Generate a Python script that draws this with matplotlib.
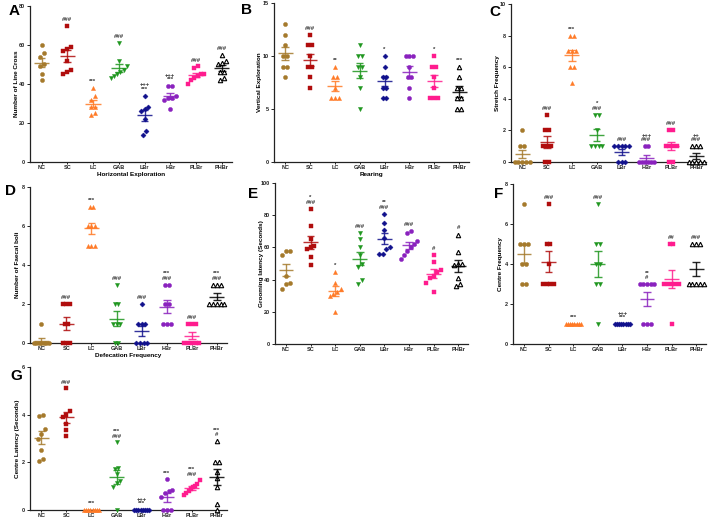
import numpy as np
import matplotlib
matplotlib.use('Agg')
import matplotlib.pyplot as plt

plt.rcParams['font.family'] = ['Liberation Sans', 'DejaVu Sans']
plt.rcParams['font.weight'] = 'bold'

W, H = 708, 518

groups = ['NC', 'SC', 'LC', 'GAB', 'LBr', 'HBr', 'PLBr', 'PHBr']
colors = ['#A57A2C', '#B00D0D', '#FF7A26', '#1E961E', '#10108C', '#8A22BE', '#FF1C8E', '#000000']
markers = ['o', 's', '^', 'v', 'D', 'o', 's', '^']

# Panel A - Number of Line Cross
a_vals = [[60, 56, 54, 50, 49, 45, 42],
          [70, 59, 58, 57, 52, 47, 46, 45],
          [38, 34, 32, 28, 28, 25, 24],
          [61, 52, 49, 47, 46, 45, 44, 43],
          [34, 28, 27, 26, 22, 16, 14],
          [39, 39, 34, 33, 33, 32, 27],
          [49, 48, 45, 45, 44, 43, 42, 40],
          [55, 52, 51, 50, 46, 46, 43, 42]]
a_ann = ['', '###', '***', '###', '+++\n***', '+++\n***', '###', '###']

# Panel B - Vertical Exploration
b_vals = [[13, 12, 11, 10, 10, 9, 9, 8],
          [12, 11, 11, 10, 9, 9, 8, 7],
          [9, 8, 8, 7, 6, 6, 6],
          [11, 10, 10, 9, 9, 8, 7, 5],
          [10, 9, 8, 8, 7, 7, 6, 6],
          [10, 10, 10, 9, 8, 8, 7, 6],
          [10, 9, 9, 8, 7, 6, 6, 6],
          [9, 8, 7, 7, 6, 6, 5, 5]]
b_ann = ['', '###', '**', '', '*', '', '*', '***']

# Panel C - Stretch Frequency
c_vals = [[2, 1, 1, 0, 0, 0, 0, 0],
          [3, 2, 2, 1, 1, 1, 0, 0],
          [8, 8, 7, 7, 7, 6, 6, 5],
          [3, 3, 2, 1, 1, 1, 1],
          [1, 1, 1, 1, 1, 0, 0, 0],
          [1, 1, 0, 0, 0, 0, 0, 0],
          [2, 2, 1, 1, 1, 1, 0, 0],
          [1, 1, 1, 0, 0, 0, 0, 0]]
c_ann = ['', '###', '***', '*\n###', '###', '+++\n###', '###', '++\n###']

# Panel D - Number of Faecal boli
d_vals = [[1, 0, 0, 0, 0, 0, 0, 0],
          [2, 2, 2, 1, 1, 0, 0, 0],
          [7, 7, 6, 6, 6, 5, 5, 5],
          [3, 2, 2, 1, 1, 1, 0, 0],
          [2, 1, 1, 1, 0, 0, 0, 0],
          [3, 3, 2, 2, 1, 1, 1],
          [1, 1, 1, 0, 0, 0, 0, 0],
          [3, 3, 3, 2, 2, 2, 2, 2]]
d_ann = ['', '###', '***', '###', '###', '***\n###', '###', '***\n###']

# Panel E - Grooming latency (Seconds)
e_vals = [[58, 57.5, 55, 42, 38, 37, 34],
          [84, 73, 65, 61, 60, 59, 54, 49],
          [45, 38, 34, 32, 31, 30, 20],
          [69, 65, 60, 55, 50, 48, 40, 37],
          [81, 75, 71, 66, 60, 59, 56, 56],
          [70, 69, 64, 62, 60, 58, 55, 53],
          [55, 51, 46, 45, 42, 41, 38, 32],
          [68, 57, 50, 50, 49, 41, 37, 36]]
e_ann = ['', '*\n###', '*', '###', '**\n###', '###', '#', '#']

# Panel F - Centre Frequency
f_vals = [[7, 5, 5, 5, 4, 4, 3, 3],
          [7, 5, 5, 4, 3, 3, 3, 3],
          [1, 1, 1, 1, 1, 1, 1, 1],
          [7, 5, 5, 4, 4, 3, 3, 1],
          [1, 1, 1, 1, 1, 1, 1, 1],
          [3, 3, 3, 3, 3, 1, 1, 1],
          [5, 5, 3, 3, 3, 3, 3, 1],
          [5, 5, 5, 3, 3, 3, 3, 3]]
f_ann = ['', '###', '***', '###', '+++\n***', '**\n#', '##', '###']

# Panel G - Centre Latency (Seconds)
g_vals = [[4.0, 3.95, 3.4, 3.2, 3.0, 2.5, 2.15, 2.05],
          [5.1, 4.15, 4.0, 3.9, 3.6, 3.35, 3.1],
          [0, 0, 0, 0, 0, 0, 0, 0],
          [2.85, 1.75, 1.72, 1.5, 1.2, 1.15, 0.95, 0],
          [0, 0, 0, 0, 0, 0, 0, 0],
          [1.3, 0.85, 0.8, 0.7, 0.55, 0, 0, 0],
          [1.25, 1.1, 1.0, 0.95, 0.9, 0.8, 0.7, 0.65],
          [2.9, 2.0, 2.0, 1.6, 1.35, 0.95, 0.25, 0]]
g_ann = ['', '###', '***', '***\n###', '+++\n***', '***', '***\n###', '***\n#']

panels = [
    ('A', a_vals, a_ann, 80, [0, 20, 40, 60, 80], 'Number of Line Cross', 'Horizontal Exploration', (30, 6, 232, 162), 17, (9, 11)),
    ('B', b_vals, b_ann, 15, [0, 5, 10, 15], 'Vertical Exploration', 'Rearing', (274, 3, 469, 162), 260, (241, 10)),
    ('C', c_vals, c_ann, 10, [0, 2, 4, 6, 8, 10], 'Stretch Frequency', None, (511, 4, 706, 162), 497, (489, 12)),
    ('D', d_vals, d_ann, 8, [0, 2, 4, 6, 8], 'Number of Faecal boli', 'Defecation Frequency', (30, 187, 227, 343), 18, (5, 191)),
    ('E', e_vals, e_ann, 100, [0, 20, 40, 60, 80, 100], 'Grooming latency (Seconds)', None, (275, 183, 468, 344), 261, (248, 194)),
    ('F', f_vals, f_ann, 8, [0, 2, 4, 6, 8], 'Centre Frequency', None, (513, 184, 706, 344), 500, (494, 194)),
    ('G', g_vals, g_ann, 6, [0, 2, 4, 6], 'Centre Latency (Seconds)', None, (30, 367, 227, 510), 18, (10, 376)),
]

fig = plt.figure(figsize=(W / 100, H / 100), dpi=100)
fig.patch.set_facecolor('white')


def offsets(vals, tol):
    vals = np.asarray(vals, dtype=float)
    order = np.argsort(vals)
    xo = np.zeros(len(vals))
    clusters = []
    cur = [order[0]]
    for i in order[1:]:
        if abs(vals[i] - vals[cur[-1]]) < tol:
            cur.append(i)
        else:
            clusters.append(cur)
            cur = [i]
    clusters.append(cur)
    for cl in clusters:
        k = len(cl)
        if k > 1:
            dx = min(0.15, 0.62 / (k - 1))
            for j, idx in enumerate(cl):
                xo[idx] = (j - (k - 1) / 2) * dx
    return xo


for letter, vals, ann, ymax, yticks, ylabel, xlabel, box, ylx, lpos in panels:
    l, t, r, b = box
    ax = fig.add_axes([l / W, 1 - b / H, (r - l) / W, (b - t) / H])
    ax.set_xlim(-0.45, 7.4)
    ax.set_ylim(0, ymax)
    for sp in ['top', 'right']:
        ax.spines[sp].set_visible(False)
    for sp in ['left', 'bottom']:
        ax.spines[sp].set_linewidth(0.9)
        ax.spines[sp].set_color('#222222')
    ax.set_yticks(yticks)
    ax.set_xticks(range(len(groups)))
    ax.set_xticklabels(groups)
    ax.tick_params(axis='y', labelsize=4.0, length=2.2, width=0.7, pad=1.2, colors='#222222')
    ax.tick_params(axis='x', labelsize=4.0, length=1.5, width=0.7, pad=0.6, colors='#222222')
    ax.patch.set_alpha(0)

    for i, v in enumerate(vals):
        v = np.asarray(v, dtype=float)
        c = colors[i]
        xo = offsets(v, 0.035 * ymax)
        if i == 7:
            ax.plot(i + xo, v, linestyle='none', marker=markers[i], markersize=3.2,
                    markerfacecolor='white', markeredgecolor=c, markeredgewidth=0.8, clip_on=False, zorder=3)
        else:
            ax.plot(i + xo, v, linestyle='none', marker=markers[i], markersize=3.0 if markers[i] != 'D' else 2.6,
                    markerfacecolor=c, markeredgecolor=c, markeredgewidth=0.3, clip_on=False, zorder=3)
        m = v.mean()
        sem = v.std(ddof=1) / np.sqrt(len(v))
        ax.hlines(m, i - 0.3, i + 0.3, color=c, linewidth=1.0, alpha=0.85, zorder=4)
        ax.vlines(i, m - sem, m + sem, color=c, linewidth=1.0, alpha=0.85, zorder=4)
        ax.hlines([m - sem, m + sem], i - 0.15, i + 0.15, color=c, linewidth=1.0, alpha=0.85, zorder=4)
        if ann[i]:
            top = max(v.max(), m + sem)
            ax.text(i, top + 0.025 * ymax, ann[i], ha='center', va='bottom', fontsize=4.3,
                    linespacing=0.85, color='#333333', zorder=5)

    fig.text(ylx / W, 1 - ((t + b) / 2) / H, ylabel, rotation=90, ha='center', va='center', fontsize=4.6)
    if xlabel:
        fig.text(((l + r) / 2) / W, 1 - (b + 12.5) / H, xlabel, ha='center', va='center', fontsize=4.6)
    fig.text(lpos[0] / W, 1 - lpos[1] / H, letter, ha='left', va='center', fontsize=11, fontweight='bold')

fig.savefig('out.png', dpi=100, facecolor='white')
